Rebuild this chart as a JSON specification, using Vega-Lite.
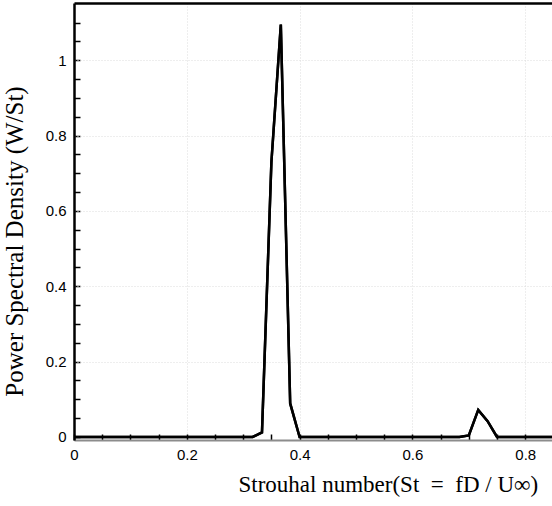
{
  "$schema": "https://vega.github.io/schema/vega-lite/v6.json",
  "autosize": {"type": "none"},
  "padding": {"left": 74, "top": 3, "right": 0, "bottom": 66},
  "width": 478,
  "height": 437,
  "config": {"view": {"stroke": null}},
  "data": {"values": [
    {"st": 0.0, "psd": 0}, {"st": 0.0167, "psd": 0}, {"st": 0.0333, "psd": 0}, {"st": 0.05, "psd": 0},
    {"st": 0.0667, "psd": 0}, {"st": 0.0833, "psd": 0}, {"st": 0.1, "psd": 0}, {"st": 0.1167, "psd": 0},
    {"st": 0.1333, "psd": 0}, {"st": 0.15, "psd": 0}, {"st": 0.1667, "psd": 0}, {"st": 0.1833, "psd": 0},
    {"st": 0.2, "psd": 0}, {"st": 0.2167, "psd": 0}, {"st": 0.2333, "psd": 0}, {"st": 0.25, "psd": 0},
    {"st": 0.2667, "psd": 0}, {"st": 0.2833, "psd": 0}, {"st": 0.3, "psd": 0}, {"st": 0.3167, "psd": 0},
    {"st": 0.3333, "psd": 0.012}, {"st": 0.35, "psd": 0.73}, {"st": 0.3667, "psd": 1.095}, {"st": 0.3833, "psd": 0.089},
    {"st": 0.4, "psd": 0}, {"st": 0.4167, "psd": 0}, {"st": 0.4333, "psd": 0}, {"st": 0.45, "psd": 0},
    {"st": 0.4667, "psd": 0}, {"st": 0.4833, "psd": 0}, {"st": 0.5, "psd": 0}, {"st": 0.5167, "psd": 0},
    {"st": 0.5333, "psd": 0}, {"st": 0.55, "psd": 0}, {"st": 0.5667, "psd": 0}, {"st": 0.5833, "psd": 0},
    {"st": 0.6, "psd": 0}, {"st": 0.6167, "psd": 0}, {"st": 0.6333, "psd": 0}, {"st": 0.65, "psd": 0},
    {"st": 0.6667, "psd": 0}, {"st": 0.6833, "psd": 0}, {"st": 0.7, "psd": 0.004}, {"st": 0.7167, "psd": 0.072},
    {"st": 0.7333, "psd": 0.042}, {"st": 0.75, "psd": 0}, {"st": 0.7667, "psd": 0}, {"st": 0.7833, "psd": 0},
    {"st": 0.8, "psd": 0}, {"st": 0.8167, "psd": 0}, {"st": 0.8333, "psd": 0}, {"st": 0.85, "psd": 0}
  ]},
  "resolve": {"axis": {"x": "independent", "y": "independent"}},
  "layer": [
    {
      "mark": {"type": "line", "color": "black", "strokeWidth": 2.5, "clip": true},
      "encoding": {
        "x": {"field": "st", "type": "quantitative",
          "scale": {"domain": [0, 0.8475], "nice": false, "zero": false},
          "axis": {"orient": "bottom", "values": [0, 0.2, 0.4, 0.6, 0.8], "format": "~g", "ticks": false,
            "labelPadding": 7, "labelFont": "Liberation Sans", "labelFontSize": 15, "labelColor": "black",
            "labelFlush": false, "labelOverlap": false,
            "grid": true, "gridColor": "#dcdcdc", "gridDash": [1, 2], "gridWidth": 1,
            "domain": true, "domainColor": "#8c8c8c", "domainWidth": 2,
            "title": "Strouhal number(St\u00a0\u00a0=\u00a0\u00a0fD / U∞)", "titleFont": "Liberation Serif", "titleFontSize": 23,
            "titleFontWeight": "normal", "titleColor": "black",
            "titleAlign": "left", "titleAnchor": null, "titleX": 164, "titleY": 51, "titleBaseline": "alphabetic"}},
        "y": {"field": "psd", "type": "quantitative",
          "scale": {"domain": [-0.008, 1.152], "nice": false, "zero": false},
          "axis": {"orient": "left",
            "values": [0, 0.05, 0.1, 0.15, 0.2, 0.25, 0.3, 0.35, 0.4, 0.45, 0.5, 0.55, 0.6, 0.65, 0.7, 0.75, 0.8, 0.85, 0.9, 0.95, 1, 1.05, 1.1],
            "labelExpr": "abs(datum.value*5 - round(datum.value*5)) < 0.000001 ? format(datum.value, '~g') : ''",
            "ticks": false,
            "labelPadding": 8, "labelFont": "Liberation Sans", "labelFontSize": 15, "labelColor": "black",
            "labelFlush": false, "labelOverlap": false,
            "grid": true, "gridColor": "black", "gridDash": [6, 1000], "gridWidth": 1.5,
            "domain": true, "domainColor": "black", "domainWidth": 2.5,
            "title": "Power Spectral Density (W/St)", "titleFont": "Liberation Serif", "titleFontSize": 25,
            "titleFontWeight": "normal", "titleColor": "black",
            "titleAngle": -90, "titleAlign": "center", "titleBaseline": "middle", "titleX": -60, "titleY": 238}}
      }
    },
    {
      "mark": {"type": "line", "color": "black", "strokeWidth": 2.5, "clip": true},
      "encoding": {
        "x": {"field": "st", "type": "quantitative",
          "axis": {"orient": "top",
            "values": [0, 0.05, 0.1, 0.15, 0.2, 0.25, 0.3, 0.35, 0.4, 0.45, 0.5, 0.55, 0.6, 0.65, 0.7, 0.75, 0.8],
            "labels": false, "ticks": false, "title": null,
            "grid": true, "gridColor": "black", "gridDash": [6, 1000], "gridWidth": 1.5,
            "domain": true, "domainColor": "black", "domainWidth": 2.5}},
        "y": {"field": "psd", "type": "quantitative",
          "axis": {"orient": "right", "values": [0.2, 0.4, 0.6, 0.8, 1],
            "labels": false, "ticks": false, "title": null, "domain": false,
            "grid": true, "gridColor": "#dcdcdc", "gridDash": [1, 2], "gridWidth": 1}}
      }
    }
  ]
}
